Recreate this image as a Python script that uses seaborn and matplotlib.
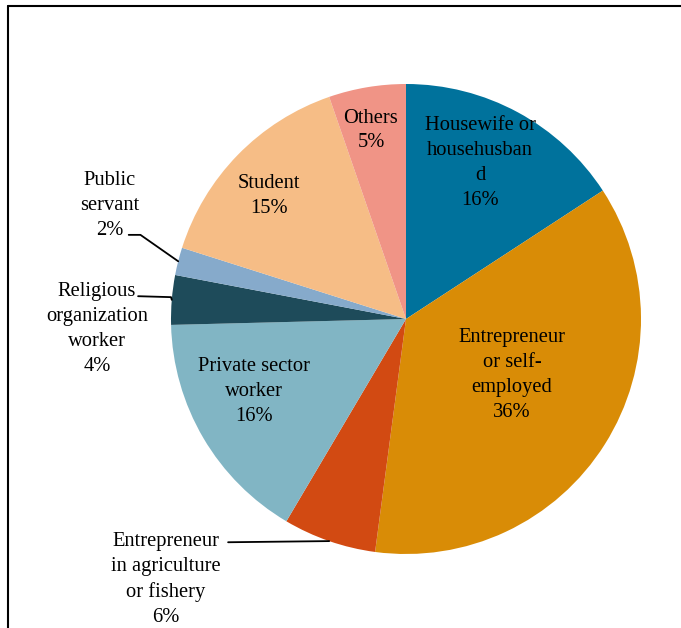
import numpy as np
import matplotlib
matplotlib.use("Agg")
import matplotlib.pyplot as plt
from matplotlib.lines import Line2D
import seaborn as sns

# slice data, clockwise from 12 o'clock
occupations = ["Housewife or\nhousehusban\nd", "Entrepreneur\nor self-\nemployed",
               "Entrepreneur\nin agriculture\nor fishery", "Private sector\nworker",
               "Religious\norganization\nworker", "Public\nservant", "Student", "Others"]
shares = [15.8, 36.3, 6.4, 16.1, 3.4, 1.9, 14.8, 5.3]
pct_labels = ["16%", "36%", "6%", "16%", "4%", "2%", "15%", "5%"]
colors = ["#00729C", "#D98C06", "#D24A12", "#81B5C4", "#1E4B5A", "#86AACB", "#F6BD86", "#F09486"]

sns.set_theme(style="white")
plt.rcParams["font.family"] = ["Liberation Serif", "DejaVu Serif"]
plt.rcParams["text.color"] = "black"

fig = plt.figure(figsize=(6.81, 6.28), dpi=100)
ax = fig.add_axes([0, 0, 1, 1])

wedges, _ = ax.pie(shares, colors=sns.color_palette(colors), startangle=90,
                   counterclock=False, radius=1, center=(0, 0), frame=True,
                   wedgeprops=dict(linewidth=0))
ax.set_xlim(-406 / 235, 275 / 235)
ax.set_ylim(-309 / 235, 319 / 235)
ax.set_aspect("auto")
ax.axis("off")

# label placement: inside labels get a position, outside ones get a leader line
inside_pos = {0: (0.315, 0.664), 1: (0.451, -0.238), 3: (-0.647, -0.31),
              6: (-0.583, 0.522), 7: (-0.149, 0.802)}
outside_pos = {2: (-1.021, -1.11), 4: (-1.315, -0.043), 5: (-1.26, 0.482)}

for i, w in enumerate(wedges):
    txt = occupations[i] + "\n" + pct_labels[i]
    x, y = inside_pos.get(i, outside_pos.get(i))
    ax.text(x, y, txt, ha="center", va="center", fontsize=14.8,
            linespacing=1.42, color="black")
    if i in outside_pos:
        mid = np.deg2rad((w.theta1 + w.theta2) / 2)
        ex, ey = np.cos(mid), np.sin(mid)
        if i == 2:
            pts = [(-0.757, -0.95), (ex, ey)]
        elif i == 4:
            pts = [(-1.14, 0.097), (-1.0, 0.093), (ex, ey)]
        else:
            pts = [(-1.18, 0.358), (-1.13, 0.358), (ex, ey)]
        xs, ys = zip(*pts)
        ax.plot(xs, ys, color="black", lw=1.3)

# frame: left and top edges only
fig.add_artist(Line2D([8 / 681, 8 / 681], [0, 1 - 6 / 628], color="black", lw=1.5,
                      transform=fig.transFigure))
fig.add_artist(Line2D([8 / 681, 1], [1 - 6 / 628, 1 - 6 / 628], color="black", lw=1.5,
                      transform=fig.transFigure))

fig.savefig("out.png", dpi=100)
